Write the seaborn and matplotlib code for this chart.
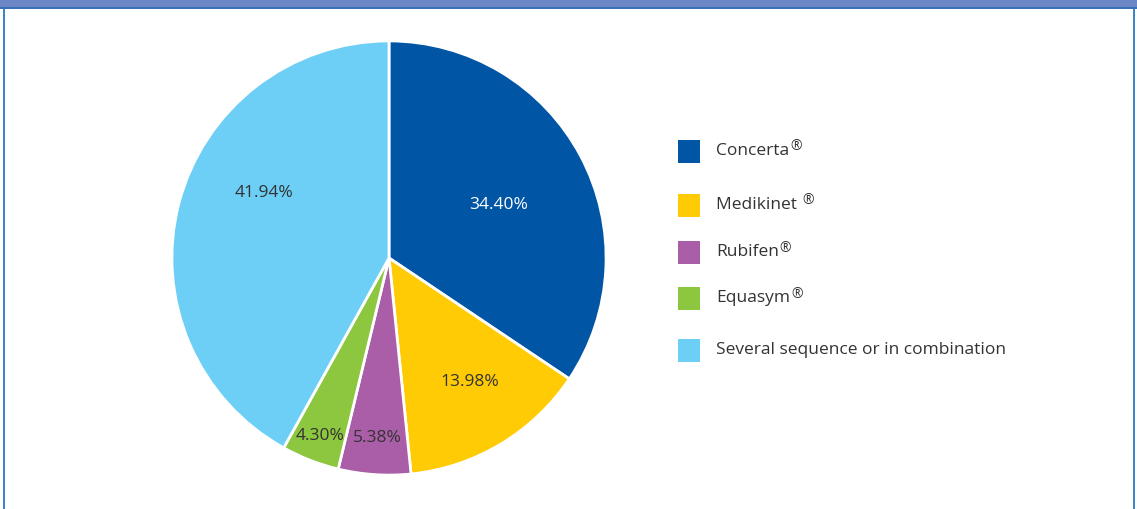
import matplotlib
matplotlib.use("Agg")
import matplotlib.pyplot as plt
import numpy as np
import seaborn as sns
from matplotlib.patches import Rectangle

# --------------------------------------------------------------------------- #
# Data
# --------------------------------------------------------------------------- #
treatments = ["Concerta", "Medikinet ", "Rubifen", "Equasym",
              "Several sequence or in combination"]
registered = [True, True, True, True, False]
shares = [34.40, 13.98, 5.38, 4.30, 41.94]
colors = ["#0055a5", "#ffcb05", "#a95ea7", "#8dc63f", "#6dcff6"]

# label placement (fraction of radius, angle tweak in degrees)
label_radius = [0.56, 0.68, 0.83, 0.88, 0.65]
label_shift = [-2, 2, 0, 0, -13]
label_colors = ["white", "#333333", "#333333", "#333333", "#333333"]

sns.set_style("white")
plt.rcParams["font.family"] = ["Open Sans", "DejaVu Sans"]

W, H = 1137, 509
fig = plt.figure(figsize=(W / 100, H / 100), dpi=100)

# --------------------------------------------------------------------------- #
# Frame: banner at top, blue side borders
# --------------------------------------------------------------------------- #
fig.patches.append(Rectangle((0, 1 - 7 / H), 1, 7 / H, transform=fig.transFigure,
                             facecolor="#6d86c5", edgecolor="none"))
fig.patches.append(Rectangle((0, 1 - 9 / H), 1, 2 / H, transform=fig.transFigure,
                             facecolor="#3b6fb6", edgecolor="none"))
fig.patches.append(Rectangle((3 / W, 0), 2 / W, 1 - 9 / H, transform=fig.transFigure,
                             facecolor="#3f86c8", edgecolor="none"))
fig.patches.append(Rectangle((1133 / W, 0), 2 / W, 1 - 9 / H, transform=fig.transFigure,
                             facecolor="#3f86c8", edgecolor="none"))

# --------------------------------------------------------------------------- #
# Pie
# --------------------------------------------------------------------------- #
cx, cy, r = 389, 258, 216
ax = fig.add_axes([(cx - r) / W, (H - cy - r) / H, 2 * r / W, 2 * r / H])
wedges, _ = ax.pie(shares, colors=colors, startangle=90, counterclock=False,
                   wedgeprops=dict(edgecolor="white", linewidth=2))
ax.set_xlim(-0.995, 0.995)
ax.set_ylim(-0.995, 0.995)
ax.set_aspect("equal")

for w, val, rad, shift, tc in zip(wedges, shares, label_radius, label_shift, label_colors):
    mid = np.deg2rad((w.theta1 + w.theta2) / 2 + shift)
    ax.text(rad * np.cos(mid), rad * np.sin(mid), f"{val:.2f}%",
            ha="center", va="center", fontsize=12.5, color=tc)

# --------------------------------------------------------------------------- #
# Legend (hand placed to keep the original uneven spacing)
# --------------------------------------------------------------------------- #
legend_y = [151, 205, 252, 298, 350]
renderer = fig.canvas.get_renderer()
for name, reg, col, y in zip(treatments, registered, colors, legend_y):
    fig.patches.append(Rectangle((678 / W, (H - y - 11.5) / H), 22 / W, 23 / H,
                                 transform=fig.transFigure, facecolor=col,
                                 edgecolor="none"))
    t = fig.text(716 / W, (H - y) / H, name, ha="left", va="center",
                 fontsize=12.5, color="#333333")
    if reg:
        bb = t.get_window_extent(renderer)
        fig.text((bb.x1 + 1) / W, (H - y + 4) / H, "\u00ae", ha="left",
                 va="center", fontsize=10, color="#333333")

fig.savefig("out.png", dpi=100)
